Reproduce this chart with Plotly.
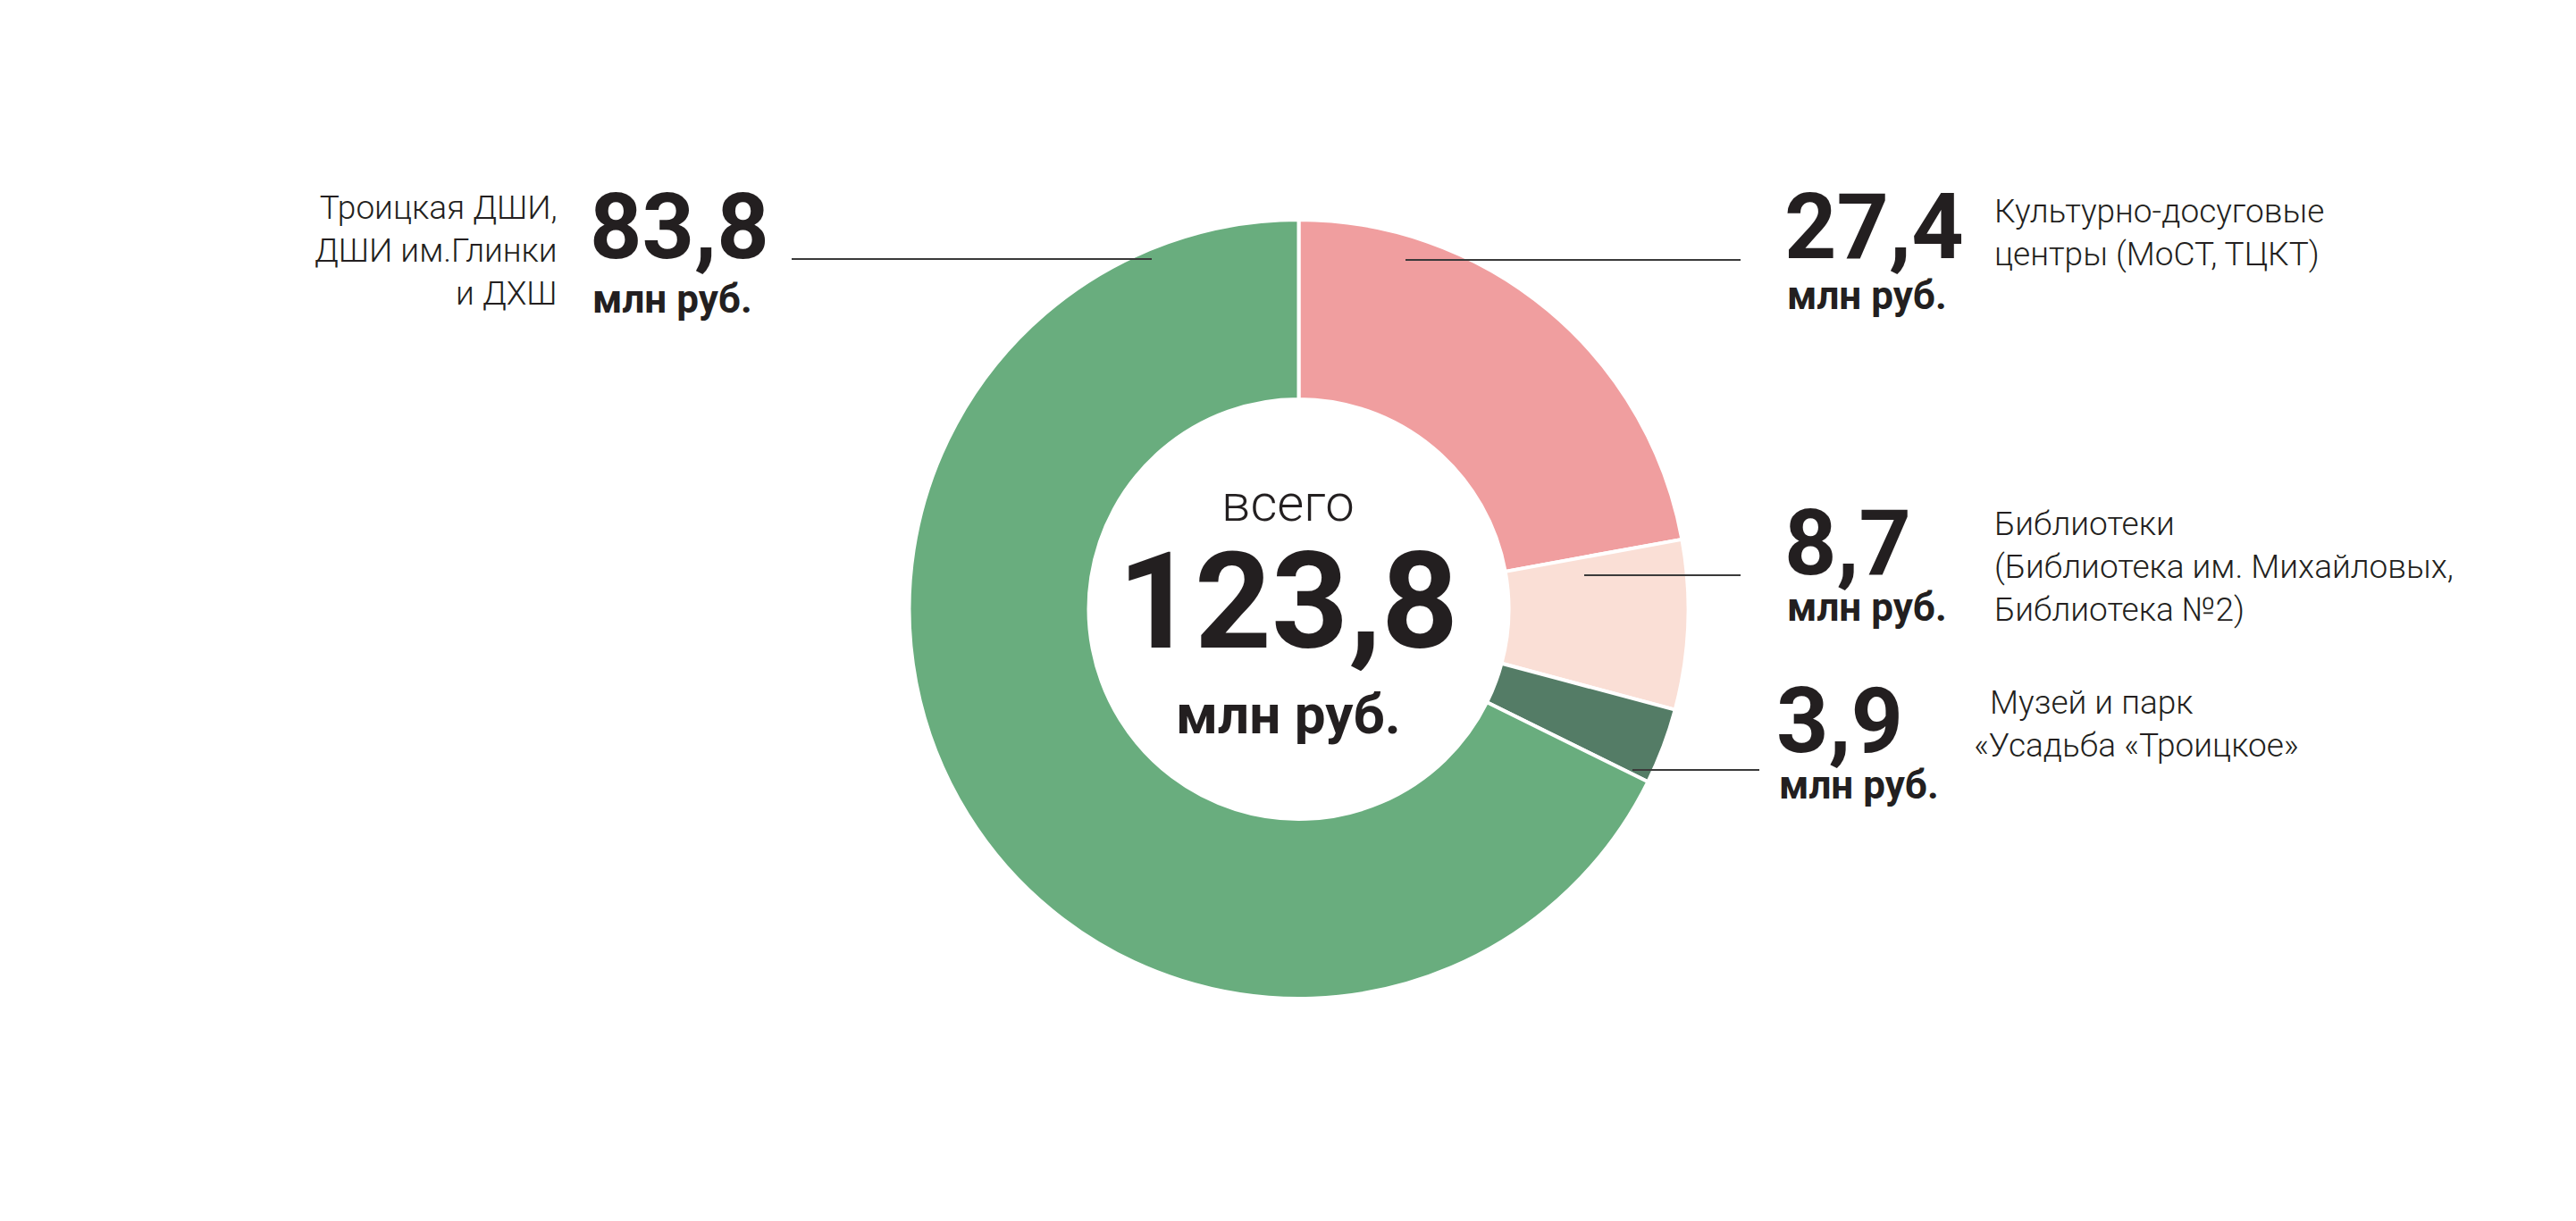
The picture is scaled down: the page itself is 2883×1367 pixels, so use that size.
import plotly.graph_objects as go

W, H = 2883, 1367

# data (clockwise from 12 o'clock)
categories = [
    "Культурно-досуговые центры (МоСТ, ТЦКТ)",
    "Библиотеки",
    "Музей и парк «Усадьба «Троицкое»",
    "Троицкая ДШИ, ДШИ им.Глинки и ДХШ",
]
values = [27.4, 8.7, 3.9, 83.8]
label_lines = [
    ["Культурно-досуговые", "центры (МоСТ, ТЦКТ)"],
    ["Библиотеки", "(Библиотека им. Михайловых,", "Библиотека №2)"],
    ["\u00a0\u00a0Музей и парк", "«Усадьба «Троицкое»"],
    ["Троицкая ДШИ,", "ДШИ им.Глинки", "и ДХШ"],
]
unit = "млн руб."
total_caption = "всего"

colors = ["#F09E9F", "#FADFD6", "#547C66", "#69AD7E"]
INK = "#231F20"

# callout placement in page pixels
callouts = [
    dict(num_x=1995, num_y=254, unit_y=331, lab_x=2230, lab_y=260, side="right", line=(1573, 1948, 291)),
    dict(num_x=1995, num_y=608, unit_y=680, lab_x=2230, lab_y=634, side="right", line=(1773, 1948, 644)),
    dict(num_x=1986, num_y=807, unit_y=879, lab_x=2207, lab_y=810, side="right", line=(1827, 1969, 862)),
    dict(num_x=658, num_y=254, unit_y=335, lab_x=626, lab_y=281, side="left", line=(886, 1289, 290)),
]


def px(x):
    return x / W


def py(y):
    return 1 - y / H


def fmt(v):
    return f"{v:.1f}".replace(".", ",")


fig = go.Figure(
    go.Pie(
        labels=categories,
        values=values,
        sort=False,
        direction="clockwise",
        rotation=0,
        hole=0.539,
        marker=dict(colors=colors, line=dict(color="white", width=4)),
        textinfo="none",
        hoverinfo="label+value",
        domain=dict(x=[px(1017), px(1890)], y=[py(1118), py(246)]),
        showlegend=False,
    )
)

annotations = []
shapes = []
for v, lines, c in zip(values, label_lines, callouts):
    annotations.append(dict(
        x=px(c["num_x"]), y=py(c["num_y"]), text=fmt(v),
        xanchor="left", yanchor="middle", showarrow=False,
        font=dict(family="Roboto", size=102, color=INK, weight=700),
    ))
    annotations.append(dict(
        x=px(c["num_x"] + 3), y=py(c["unit_y"]), text=unit,
        xanchor="left", yanchor="middle", showarrow=False,
        font=dict(family="Roboto", size=44, color=INK, weight=700),
    ))
    anchor = "left" if c["side"] == "right" else "right"
    annotations.append(dict(
        x=px(c["lab_x"]), y=py(c["lab_y"]), text="<br>".join(lines),
        xanchor=anchor, yanchor="middle", align=anchor, showarrow=False,
        font=dict(family="Roboto", size=37, color=INK, weight=300),
    ))
    x0, x1, y = c["line"]
    shapes.append(dict(
        type="line", xref="paper", yref="paper",
        x0=px(x0), x1=px(x1), y0=py(y), y1=py(y),
        line=dict(color="#3A3A3A", width=2),
    ))

# centre text
annotations += [
    dict(x=px(1441), y=py(563), text=total_caption, showarrow=False,
         xanchor="center", yanchor="middle",
         font=dict(family="Roboto", size=58, color=INK, weight=300)),
    dict(x=px(1441), y=py(674), text=fmt(sum(values)), showarrow=False,
         xanchor="center", yanchor="middle",
         font=dict(family="Roboto", size=150, color=INK, weight=700)),
    dict(x=px(1442), y=py(799), text=unit, showarrow=False,
         xanchor="center", yanchor="middle",
         font=dict(family="Roboto", size=62, color=INK, weight=700)),
]

fig.update_layout(
    width=W,
    height=H,
    margin=dict(l=0, r=0, t=0, b=0),
    paper_bgcolor="white",
    plot_bgcolor="white",
    showlegend=False,
    annotations=annotations,
    shapes=shapes,
)

fig.write_html(
    "out.html",
    config={"displayModeBar": False},
    post_script="document.body.style.margin='0';",
)
